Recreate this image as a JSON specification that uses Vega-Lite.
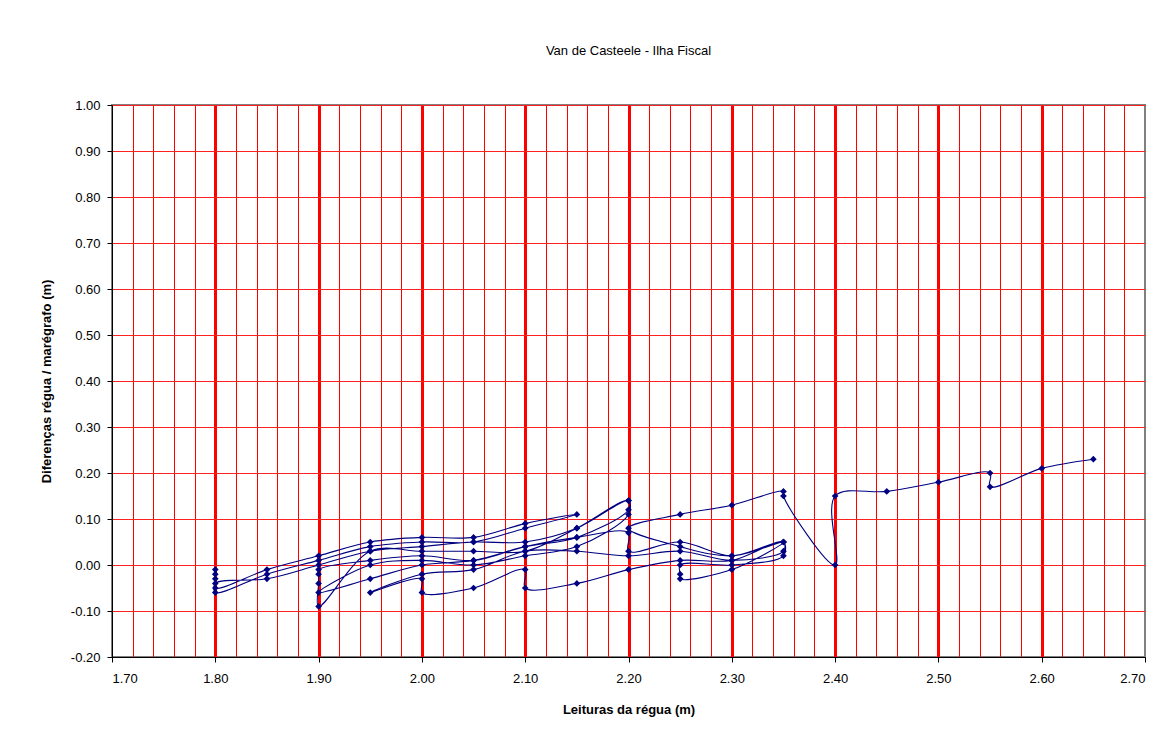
{
  "$schema": "https://vega.github.io/schema/vega-lite/v6.json",
  "width": 1033,
  "height": 552,
  "autosize": {"type": "none"},
  "padding": {"left": 112, "top": 105, "right": 25, "bottom": 81},
  "background": "white",
  "config": {
    "locale": {"number": {"decimal": ".", "thousands": ",", "grouping": [3], "currency": ["$", ""], "minus": "-"}},
    "view": {"stroke": "#808080", "strokeWidth": 2},
    "font": "Liberation Sans",
    "axis": {"labelFont": "Liberation Sans", "titleFont": "Liberation Sans", "labelFontSize": 13, "titleFontSize": 13, "labelColor": "black", "titleColor": "black", "domainColor": "black", "tickColor": "black", "tickSize": 5},
    "axisY": {"gridColor": "#FF2020", "gridOpacity": 1, "gridWidth": 1}
  },
  "title": {"text": "Van de Casteele - Ilha Fiscal", "fontSize": 13, "fontWeight": "normal", "font": "Liberation Sans", "color": "black", "anchor": "middle", "offset": 41},
  "data": {"values": [
    {"i": 1, "leitura": 1.80, "diferenca": -0.01},
    {"i": 2, "leitura": 1.80, "diferenca": -0.02},
    {"i": 3, "leitura": 1.80, "diferenca": -0.03},
    {"i": 4, "leitura": 1.80, "diferenca": -0.05},
    {"i": 5, "leitura": 1.85, "diferenca": -0.01},
    {"i": 6, "leitura": 1.90, "diferenca": 0.02},
    {"i": 7, "leitura": 1.95, "diferenca": 0.05},
    {"i": 8, "leitura": 2.00, "diferenca": 0.06},
    {"i": 9, "leitura": 2.05, "diferenca": 0.06},
    {"i": 10, "leitura": 2.10, "diferenca": 0.09},
    {"i": 11, "leitura": 2.15, "diferenca": 0.11},
    {"i": 12, "leitura": 2.10, "diferenca": 0.08},
    {"i": 13, "leitura": 2.05, "diferenca": 0.05},
    {"i": 14, "leitura": 2.00, "diferenca": 0.05},
    {"i": 15, "leitura": 1.95, "diferenca": 0.04},
    {"i": 16, "leitura": 1.90, "diferenca": 0.01},
    {"i": 17, "leitura": 1.85, "diferenca": -0.02},
    {"i": 18, "leitura": 1.80, "diferenca": -0.06},
    {"i": 19, "leitura": 1.80, "diferenca": -0.04},
    {"i": 20, "leitura": 1.85, "diferenca": -0.03},
    {"i": 21, "leitura": 1.90, "diferenca": 0.00},
    {"i": 22, "leitura": 1.95, "diferenca": 0.03},
    {"i": 23, "leitura": 2.00, "diferenca": 0.04},
    {"i": 24, "leitura": 2.05, "diferenca": 0.05},
    {"i": 25, "leitura": 2.10, "diferenca": 0.05},
    {"i": 26, "leitura": 2.15, "diferenca": 0.08},
    {"i": 27, "leitura": 2.20, "diferenca": 0.14},
    {"i": 28, "leitura": 2.20, "diferenca": 0.12},
    {"i": 29, "leitura": 2.15, "diferenca": 0.06},
    {"i": 30, "leitura": 2.10, "diferenca": 0.04},
    {"i": 31, "leitura": 2.05, "diferenca": 0.01},
    {"i": 32, "leitura": 2.00, "diferenca": 0.02},
    {"i": 33, "leitura": 1.95, "diferenca": 0.01},
    {"i": 34, "leitura": 1.90, "diferenca": -0.01},
    {"i": 35, "leitura": 1.90, "diferenca": -0.02},
    {"i": 36, "leitura": 1.90, "diferenca": -0.04},
    {"i": 37, "leitura": 1.90, "diferenca": -0.09},
    {"i": 38, "leitura": 1.95, "diferenca": 0.03},
    {"i": 39, "leitura": 2.00, "diferenca": 0.03},
    {"i": 40, "leitura": 2.05, "diferenca": 0.03},
    {"i": 41, "leitura": 2.10, "diferenca": 0.03},
    {"i": 42, "leitura": 2.15, "diferenca": 0.08},
    {"i": 43, "leitura": 2.20, "diferenca": 0.14},
    {"i": 44, "leitura": 2.20, "diferenca": 0.11},
    {"i": 45, "leitura": 2.15, "diferenca": 0.04},
    {"i": 46, "leitura": 2.10, "diferenca": 0.02},
    {"i": 47, "leitura": 2.05, "diferenca": 0.00},
    {"i": 48, "leitura": 2.00, "diferenca": 0.01},
    {"i": 49, "leitura": 1.95, "diferenca": 0.00},
    {"i": 50, "leitura": 1.90, "diferenca": -0.06},
    {"i": 51, "leitura": 1.95, "diferenca": -0.03},
    {"i": 52, "leitura": 2.00, "diferenca": 0.00},
    {"i": 53, "leitura": 2.05, "diferenca": 0.01},
    {"i": 54, "leitura": 2.10, "diferenca": 0.04},
    {"i": 55, "leitura": 2.15, "diferenca": 0.06},
    {"i": 56, "leitura": 2.20, "diferenca": 0.07},
    {"i": 57, "leitura": 2.20, "diferenca": 0.03},
    {"i": 58, "leitura": 2.25, "diferenca": 0.05},
    {"i": 59, "leitura": 2.30, "diferenca": 0.02},
    {"i": 60, "leitura": 2.35, "diferenca": 0.05},
    {"i": 61, "leitura": 2.35, "diferenca": 0.03},
    {"i": 62, "leitura": 2.30, "diferenca": 0.01},
    {"i": 63, "leitura": 2.25, "diferenca": 0.03},
    {"i": 64, "leitura": 2.20, "diferenca": 0.02},
    {"i": 65, "leitura": 2.15, "diferenca": 0.03},
    {"i": 66, "leitura": 2.10, "diferenca": 0.03},
    {"i": 67, "leitura": 2.05, "diferenca": -0.01},
    {"i": 68, "leitura": 2.00, "diferenca": -0.02},
    {"i": 69, "leitura": 1.95, "diferenca": -0.06},
    {"i": 70, "leitura": 2.00, "diferenca": -0.03},
    {"i": 71, "leitura": 2.00, "diferenca": -0.06},
    {"i": 72, "leitura": 2.05, "diferenca": -0.05},
    {"i": 73, "leitura": 2.10, "diferenca": -0.01},
    {"i": 74, "leitura": 2.10, "diferenca": -0.05},
    {"i": 75, "leitura": 2.15, "diferenca": -0.04},
    {"i": 76, "leitura": 2.20, "diferenca": -0.01},
    {"i": 77, "leitura": 2.25, "diferenca": 0.01},
    {"i": 78, "leitura": 2.30, "diferenca": 0.01},
    {"i": 79, "leitura": 2.35, "diferenca": 0.05},
    {"i": 80, "leitura": 2.35, "diferenca": 0.02},
    {"i": 81, "leitura": 2.30, "diferenca": 0.00},
    {"i": 82, "leitura": 2.25, "diferenca": 0.00},
    {"i": 83, "leitura": 2.25, "diferenca": -0.02},
    {"i": 84, "leitura": 2.25, "diferenca": -0.03},
    {"i": 85, "leitura": 2.30, "diferenca": -0.01},
    {"i": 86, "leitura": 2.35, "diferenca": 0.05},
    {"i": 87, "leitura": 2.30, "diferenca": 0.02},
    {"i": 88, "leitura": 2.25, "diferenca": 0.04},
    {"i": 89, "leitura": 2.20, "diferenca": 0.08},
    {"i": 90, "leitura": 2.25, "diferenca": 0.11},
    {"i": 91, "leitura": 2.30, "diferenca": 0.13},
    {"i": 92, "leitura": 2.35, "diferenca": 0.16},
    {"i": 93, "leitura": 2.35, "diferenca": 0.15},
    {"i": 94, "leitura": 2.40, "diferenca": 0.00},
    {"i": 95, "leitura": 2.40, "diferenca": 0.15},
    {"i": 96, "leitura": 2.45, "diferenca": 0.16},
    {"i": 97, "leitura": 2.50, "diferenca": 0.18},
    {"i": 98, "leitura": 2.55, "diferenca": 0.20},
    {"i": 99, "leitura": 2.55, "diferenca": 0.17},
    {"i": 100, "leitura": 2.60, "diferenca": 0.21},
    {"i": 101, "leitura": 2.65, "diferenca": 0.23}
  ]},
  "layer": [
    {
      "mark": {"type": "line", "interpolate": "catmull-rom", "color": "#000080", "strokeWidth": 1.1, "clip": true},
      "encoding": {
        "x": {"field": "leitura", "type": "quantitative",
          "scale": {"domain": [1.7, 2.7], "nice": false, "zero": false},
          "axis": {"values": [1.7, 1.8, 1.9, 2.0, 2.1, 2.2, 2.3, 2.4, 2.5, 2.6, 2.7], "format": ".2f",
            "grid": true, "gridColor": {"condition": {"test": "datum.value < 1.75 || datum.value > 2.65", "value": "transparent"}, "value": "#FF0000"},
            "gridWidth": 3, "gridOpacity": 1,
            "labelPadding": 10, "title": "Leituras da régua (m)", "titleFontWeight": "bold", "titlePadding": 18}},
        "y": {"field": "diferenca", "type": "quantitative",
          "scale": {"domain": [-0.2, 1.0], "nice": false, "zero": false},
          "axis": {"values": [-0.2, -0.1, 0, 0.1, 0.2, 0.3, 0.4, 0.5, 0.6, 0.7, 0.8, 0.9, 1.0], "format": ".2f",
            "grid": true,
            "labelPadding": 7, "title": "Diferenças régua / marégrafo (m)", "titleFontWeight": "bold", "titlePadding": 17}},
        "order": {"field": "i", "type": "quantitative"}
      }
    },
    {
      "mark": {"type": "point", "shape": "diamond", "filled": true, "color": "#000080", "size": 45, "opacity": 1},
      "encoding": {
        "x": {"field": "leitura", "type": "quantitative",
          "scale": {"domain": [1.7, 2.7], "nice": false, "zero": false},
          "axis": {"values": [1.72, 1.74, 1.76, 1.78, 1.82, 1.84, 1.86, 1.88, 1.92, 1.94, 1.96, 1.98, 2.02, 2.04, 2.06, 2.08, 2.12, 2.14, 2.16, 2.18, 2.22, 2.24, 2.26, 2.28, 2.32, 2.34, 2.36, 2.38, 2.42, 2.44, 2.46, 2.48, 2.52, 2.54, 2.56, 2.58, 2.62, 2.64, 2.66, 2.68],
            "grid": true, "gridColor": "#FF0000", "gridWidth": 1, "gridOpacity": 1,
            "labels": false, "ticks": false, "domain": false, "title": null}},
        "y": {"field": "diferenca", "type": "quantitative",
          "scale": {"domain": [-0.2, 1.0], "nice": false, "zero": false},
          "axis": {"values": [-0.2, -0.1, 0, 0.1, 0.2, 0.3, 0.4, 0.5, 0.6, 0.7, 0.8, 0.9, 1.0], "format": ".2f",
            "grid": true,
            "labelPadding": 7, "title": "Diferenças régua / marégrafo (m)", "titleFontWeight": "bold", "titlePadding": 17}}
      }
    }
  ],
  "resolve": {"axis": {"x": "independent"}}
}
